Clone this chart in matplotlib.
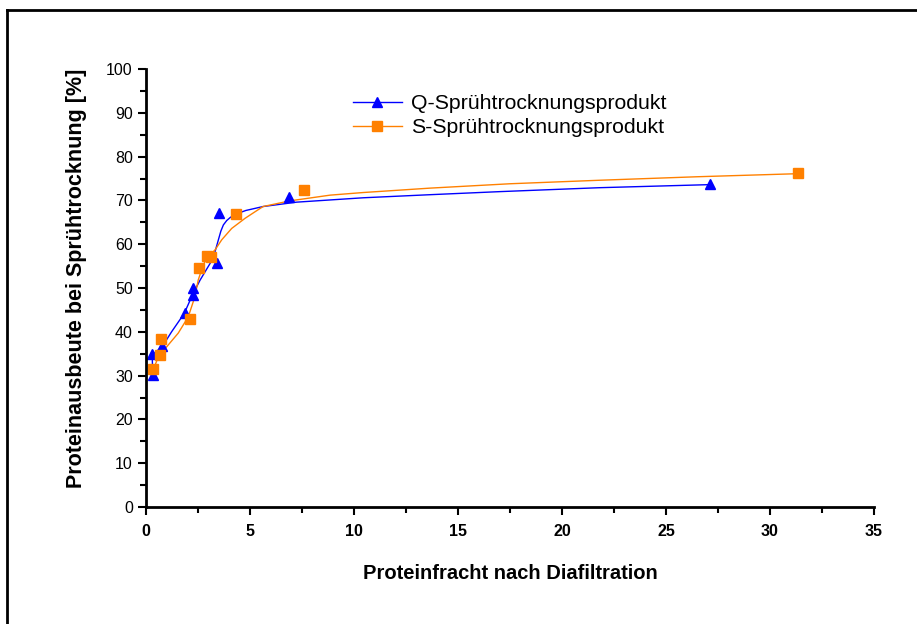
import matplotlib.pyplot as plt
from matplotlib.lines import Line2D
from matplotlib.ticker import MultipleLocator

plt.rcParams['font.family'] = ['Liberation Sans', 'DejaVu Sans']

# Messpunkte Q-Produkt (Dreiecke)
q_x = [0.32, 0.30, 0.78, 1.875, 2.27, 2.27, 3.39, 3.52, 6.86, 27.1]
q_y = [30.1, 35.0, 36.7, 44.4, 49.9, 48.4, 55.8, 67.2, 70.8, 73.7]

# Messpunkte S-Produkt (Quadrate)
s_x = [0.35, 0.67, 0.72, 2.12, 2.55, 2.92, 3.12, 4.34, 7.62, 31.35]
s_y = [31.4, 34.7, 38.4, 42.9, 54.6, 57.3, 57.1, 67.0, 72.4, 76.2]

# Ausgleichskurven
q_fit_x = [0.32, 0.30, 0.50, 0.78, 1.23, 1.84, 2.25, 2.60, 3.08, 3.32, 3.48, 3.60,
           3.72, 3.88, 4.05, 4.28, 4.80, 5.63, 7.24, 10.45, 13.65, 17.0, 21.8, 27.1]
q_fit_y = [30.1, 34.7, 35.5, 36.6, 40.0, 44.2, 48.6, 51.8, 55.6, 58.3, 61.0, 63.0,
           64.4, 65.4, 66.1, 66.8, 67.7, 68.6, 69.6, 70.6, 71.3, 72.0, 72.9, 73.6]
s_fit_x = [0.35, 0.59, 1.07, 1.55, 2.03, 2.35, 2.51, 2.75, 2.99, 3.32, 3.64, 4.12,
           4.76, 5.24, 5.63, 6.92, 8.85, 10.45, 13.65, 17.5, 21.8, 26.5, 31.35]
s_fit_y = [31.3, 34.3, 37.0, 39.7, 43.4, 48.0, 51.8, 55.3, 57.2, 58.7, 61.0, 63.6,
           65.9, 67.4, 68.6, 69.9, 71.2, 71.8, 72.8, 73.8, 74.6, 75.4, 76.1]

blau = '#0000FF'
orange = '#FF8000'

fig = plt.figure(figsize=(9.17, 6.24), dpi=100)
ax = fig.add_axes([146 / 917, 1 - 507 / 624, (874 - 146) / 917, (507 - 69) / 624])

ax.plot(q_fit_x, q_fit_y, color=blau, lw=1.0)
ax.plot(s_fit_x, s_fit_y, color=orange, lw=1.0)
ax.plot(q_x, q_y, ls='none', marker='^', ms=6.5, color=blau, mec=blau)
ax.plot(s_x, s_y, ls='none', marker='s', ms=6.5, color=orange, mec=orange)

ax.set_xlim(0, 35)
ax.set_ylim(0, 100)
ax.xaxis.set_major_locator(MultipleLocator(5))
ax.xaxis.set_minor_locator(MultipleLocator(2.5))
ax.yaxis.set_major_locator(MultipleLocator(10))
ax.yaxis.set_minor_locator(MultipleLocator(5))

for side in ['top', 'right']:
    ax.spines[side].set_visible(False)
for side in ['left', 'bottom']:
    ax.spines[side].set_linewidth(2)
    ax.spines[side].set_clip_on(False)

ax.tick_params(which='major', direction='out', length=6, width=1.5, labelsize=11.5)
ax.tick_params(which='minor', direction='out', length=4, width=1.5)
ax.tick_params(axis='x', which='major', pad=6)
for lbl in ax.get_xticklabels():
    lbl.set_fontweight('bold')

ax.set_xlabel('Proteinfracht nach Diafiltration', fontsize=14.5, fontweight='bold', labelpad=18)
ax.set_ylabel('Proteinausbeute bei Sprühtrocknung [%]', fontsize=15.5, fontweight='bold', labelpad=14)
ax.yaxis.label.set_y(0.523)

handles = [
    Line2D([], [], color=blau, lw=1.0, marker='^', ms=6.5),
    Line2D([], [], color=orange, lw=1.0, marker='s', ms=6.5),
]
fig.legend(handles, ['Q-Sprühtrocknungsprodukt', 'S-Sprühtrocknungsprodukt'],
           loc='upper left', bbox_to_anchor=(353 / 917, 1 - 94 / 624),
           frameon=False, fontsize=15.3, handlelength=2.3, handletextpad=0.45,
           labelspacing=0.25, borderpad=0, borderaxespad=0)

# Rahmen oben und links
fig.add_artist(Line2D([7 / 917, 1], [1 - 10 / 624, 1 - 10 / 624], color='black', lw=2,
                      transform=fig.transFigure))
fig.add_artist(Line2D([7 / 917, 7 / 917], [0, 1 - 10 / 624], color='black', lw=2,
                      transform=fig.transFigure))

fig.savefig('out.png', dpi=100)
